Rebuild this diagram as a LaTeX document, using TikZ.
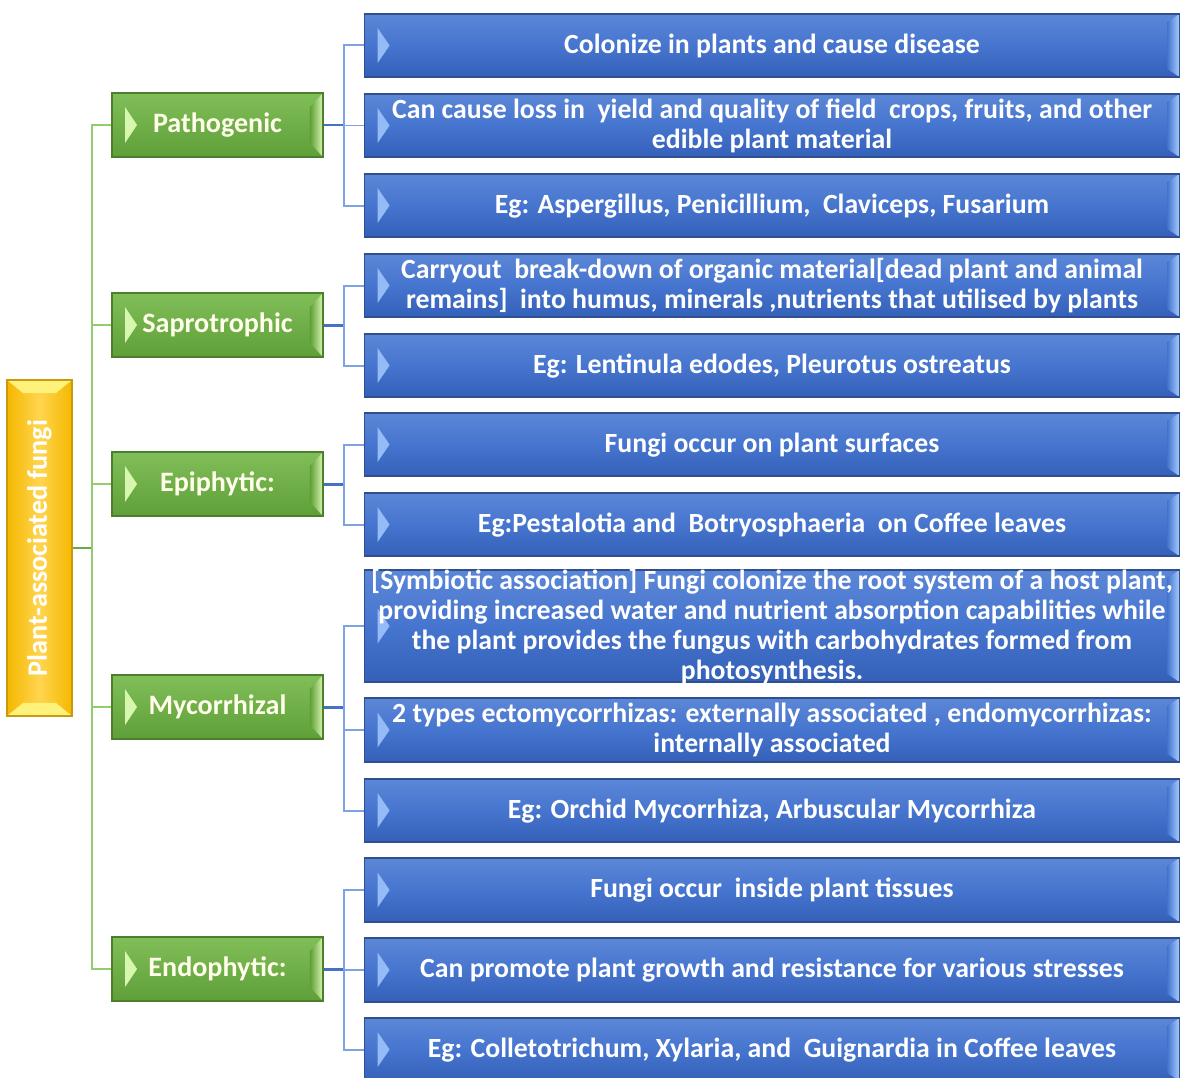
\documentclass[tikz,border=0pt]{standalone}
\usepackage{fontspec}
\setmainfont{Carlito}
\definecolor{bluetop}{HTML}{5C87D7}
\definecolor{bluemid}{HTML}{4675CF}
\definecolor{bluebot}{HTML}{3460B8}
\definecolor{blueedge}{HTML}{2F4F8F}
\definecolor{bluelite}{HTML}{A8CCFF}
\definecolor{greentop}{HTML}{80BE58}
\definecolor{greenbot}{HTML}{5F9F38}
\definecolor{greenedge}{HTML}{4C7F2C}
\definecolor{greenlite}{HTML}{D8F7AE}
\definecolor{goldtop}{HTML}{FFD54F}
\definecolor{goldbot}{HTML}{F5B800}
\definecolor{goldedge}{HTML}{C99A10}
\definecolor{goldlite}{HTML}{FFF27A}
\definecolor{trunkline}{HTML}{93CB6F}
\definecolor{stemline}{HTML}{6AAA42}
\definecolor{brline}{HTML}{7EA3E3}
\definecolor{brstem}{HTML}{4472C4}
\tikzset{
  leaf/.style={draw=blueedge, line width=0.7pt, top color=bluetop, bottom color=bluebot,
    middle color=bluemid, minimum width=16.3cm, inner sep=0pt, text=white,
    font=\bfseries\fontsize{15.8}{17}\selectfont,
    path picture={
      \fill[bluelite!80!bluemid] ([xshift=0.26cm,yshift=0.35cm]path picture bounding box.west)
        -- ([xshift=0.5cm]path picture bounding box.west)
        -- ([xshift=0.26cm,yshift=-0.35cm]path picture bounding box.west) -- cycle;
      \shade[left color=bluemid, right color=bluelite] (path picture bounding box.north east)
        -- ([xshift=-0.24cm,yshift=-0.16cm]path picture bounding box.north east)
        -- ([xshift=-0.24cm,yshift=0.16cm]path picture bounding box.south east)
        -- (path picture bounding box.south east) -- cycle;}},
  group/.style={draw=greenedge, line width=0.7pt, top color=greentop, bottom color=greenbot,
    minimum width=4.22cm, minimum height=1.28cm, inner sep=0pt, text=white!92!yellow,
    font=\bfseries\fontsize{16}{17}\selectfont,
    path picture={
      \fill[greenlite] ([xshift=0.26cm,yshift=0.36cm]path picture bounding box.west)
        -- ([xshift=0.5cm]path picture bounding box.west)
        -- ([xshift=0.26cm,yshift=-0.36cm]path picture bounding box.west) -- cycle;
      \shade[left color=greenbot, right color=greenlite] (path picture bounding box.north east)
        -- ([xshift=-0.26cm,yshift=-0.28cm]path picture bounding box.north east)
        -- ([xshift=-0.26cm,yshift=0.28cm]path picture bounding box.south east)
        -- (path picture bounding box.south east) -- cycle;}},
  rootbox/.style={draw=goldedge, line width=0.7pt, left color=goldbot, right color=goldbot,
    middle color=goldtop, minimum width=1.3cm, minimum height=6.72cm, inner sep=0pt,
    text=white, font=\bfseries\fontsize{16}{17}\selectfont,
    path picture={
      \fill[goldlite] (path picture bounding box.north west) -- (path picture bounding box.north east)
        -- ([xshift=-0.32cm,yshift=-0.26cm]path picture bounding box.north east)
        -- ([xshift=0.32cm,yshift=-0.26cm]path picture bounding box.north west) -- cycle;
      \fill[goldlite] (path picture bounding box.south west) -- (path picture bounding box.south east)
        -- ([xshift=-0.32cm,yshift=0.26cm]path picture bounding box.south east)
        -- ([xshift=0.32cm,yshift=0.26cm]path picture bounding box.south west) -- cycle;}},
  gline/.style={draw=trunkline, line width=0.05cm},
  bline/.style={draw=brline, line width=0.04cm},
  bstem/.style={draw=brstem, line width=0.06cm}
}
\newcommand{\leaftext}[1]{\parbox[c][0pt][c]{16.3cm}{\centering\vspace*{0.14cm}#1}}
\begin{document}
\begin{tikzpicture}[x=0.02cm, y=-0.02cm]
\useasboundingbox (0,0) rectangle (1180,1078);
% root and trunk
\coordinate (trunk) at (92,548);
\node[rootbox] (root) at (39.5,548) {\rotatebox{90}{Plant-associated fungi}};
\draw[gline, draw=stemline] (root) -- (trunk);
% groups
\foreach \n/\y/\t in {pat/125/Pathogenic, sap/325/Saprotrophic, epi/484/Epiphytic:,
    myc/707/Mycorrhizal, endo/969/Endophytic:}{
  \coordinate (\n-br) at (344,\y);
  \node[group] (\n) at (217.5,\y) {\t};
  \draw[gline] (trunk) |- (\n);
  \draw[bstem] (\n) -- (\n-br);
}
% leaves
\foreach \n/\p/\y/\h/\t in {
    b1/pat/45.5/63/{Colonize in plants and cause disease},
    b2/pat/125.5/63/{Can cause loss in\ \ yield and quality of field\ \ crops, fruits, and other\\edible plant material},
    b3/pat/205.5/63/{Eg: Aspergillus, Penicillium,\ \ Claviceps, Fusarium},
    b4/sap/285.5/63/{Carryout\ \ break-down of organic material[dead plant and animal\\remains]\ \ into humus, minerals ,nutrients that utilised by plants},
    b5/sap/365.5/63/{Eg: Lentinula edodes, Pleurotus ostreatus},
    b6/epi/444.5/63/{Fungi occur on plant surfaces},
    b7/epi/524.5/63/{Eg:Pestalotia and\ \ Botryosphaeria\ \ on Coffee leaves},
    b8/myc/626/112/{[Symbiotic association] Fungi colonize the root system of a host plant,\\providing increased water and nutrient absorption capabilities while\\the plant provides the fungus with carbohydrates formed from\\photosynthesis.},
    b9/myc/730/64/{2 types ectomycorrhizas: externally associated , endomycorrhizas:\\internally associated},
    b10/myc/810.5/63/{Eg: Orchid Mycorrhiza, Arbuscular Mycorrhiza},
    b11/endo/890/64/{Fungi occur\ \ inside plant tissues},
    b12/endo/970/64/{Can promote plant growth and resistance for various stresses},
    b13/endo/1049.5/63/{Eg: Colletotrichum, Xylaria, and\ \ Guignardia in Coffee leaves}}{
  \node[leaf, minimum height=\h*0.02cm] (\n) at (772,\y) {\leaftext{\t}};
  \draw[bline] (\p-br) |- (\n);
}
\end{tikzpicture}
\end{document}
